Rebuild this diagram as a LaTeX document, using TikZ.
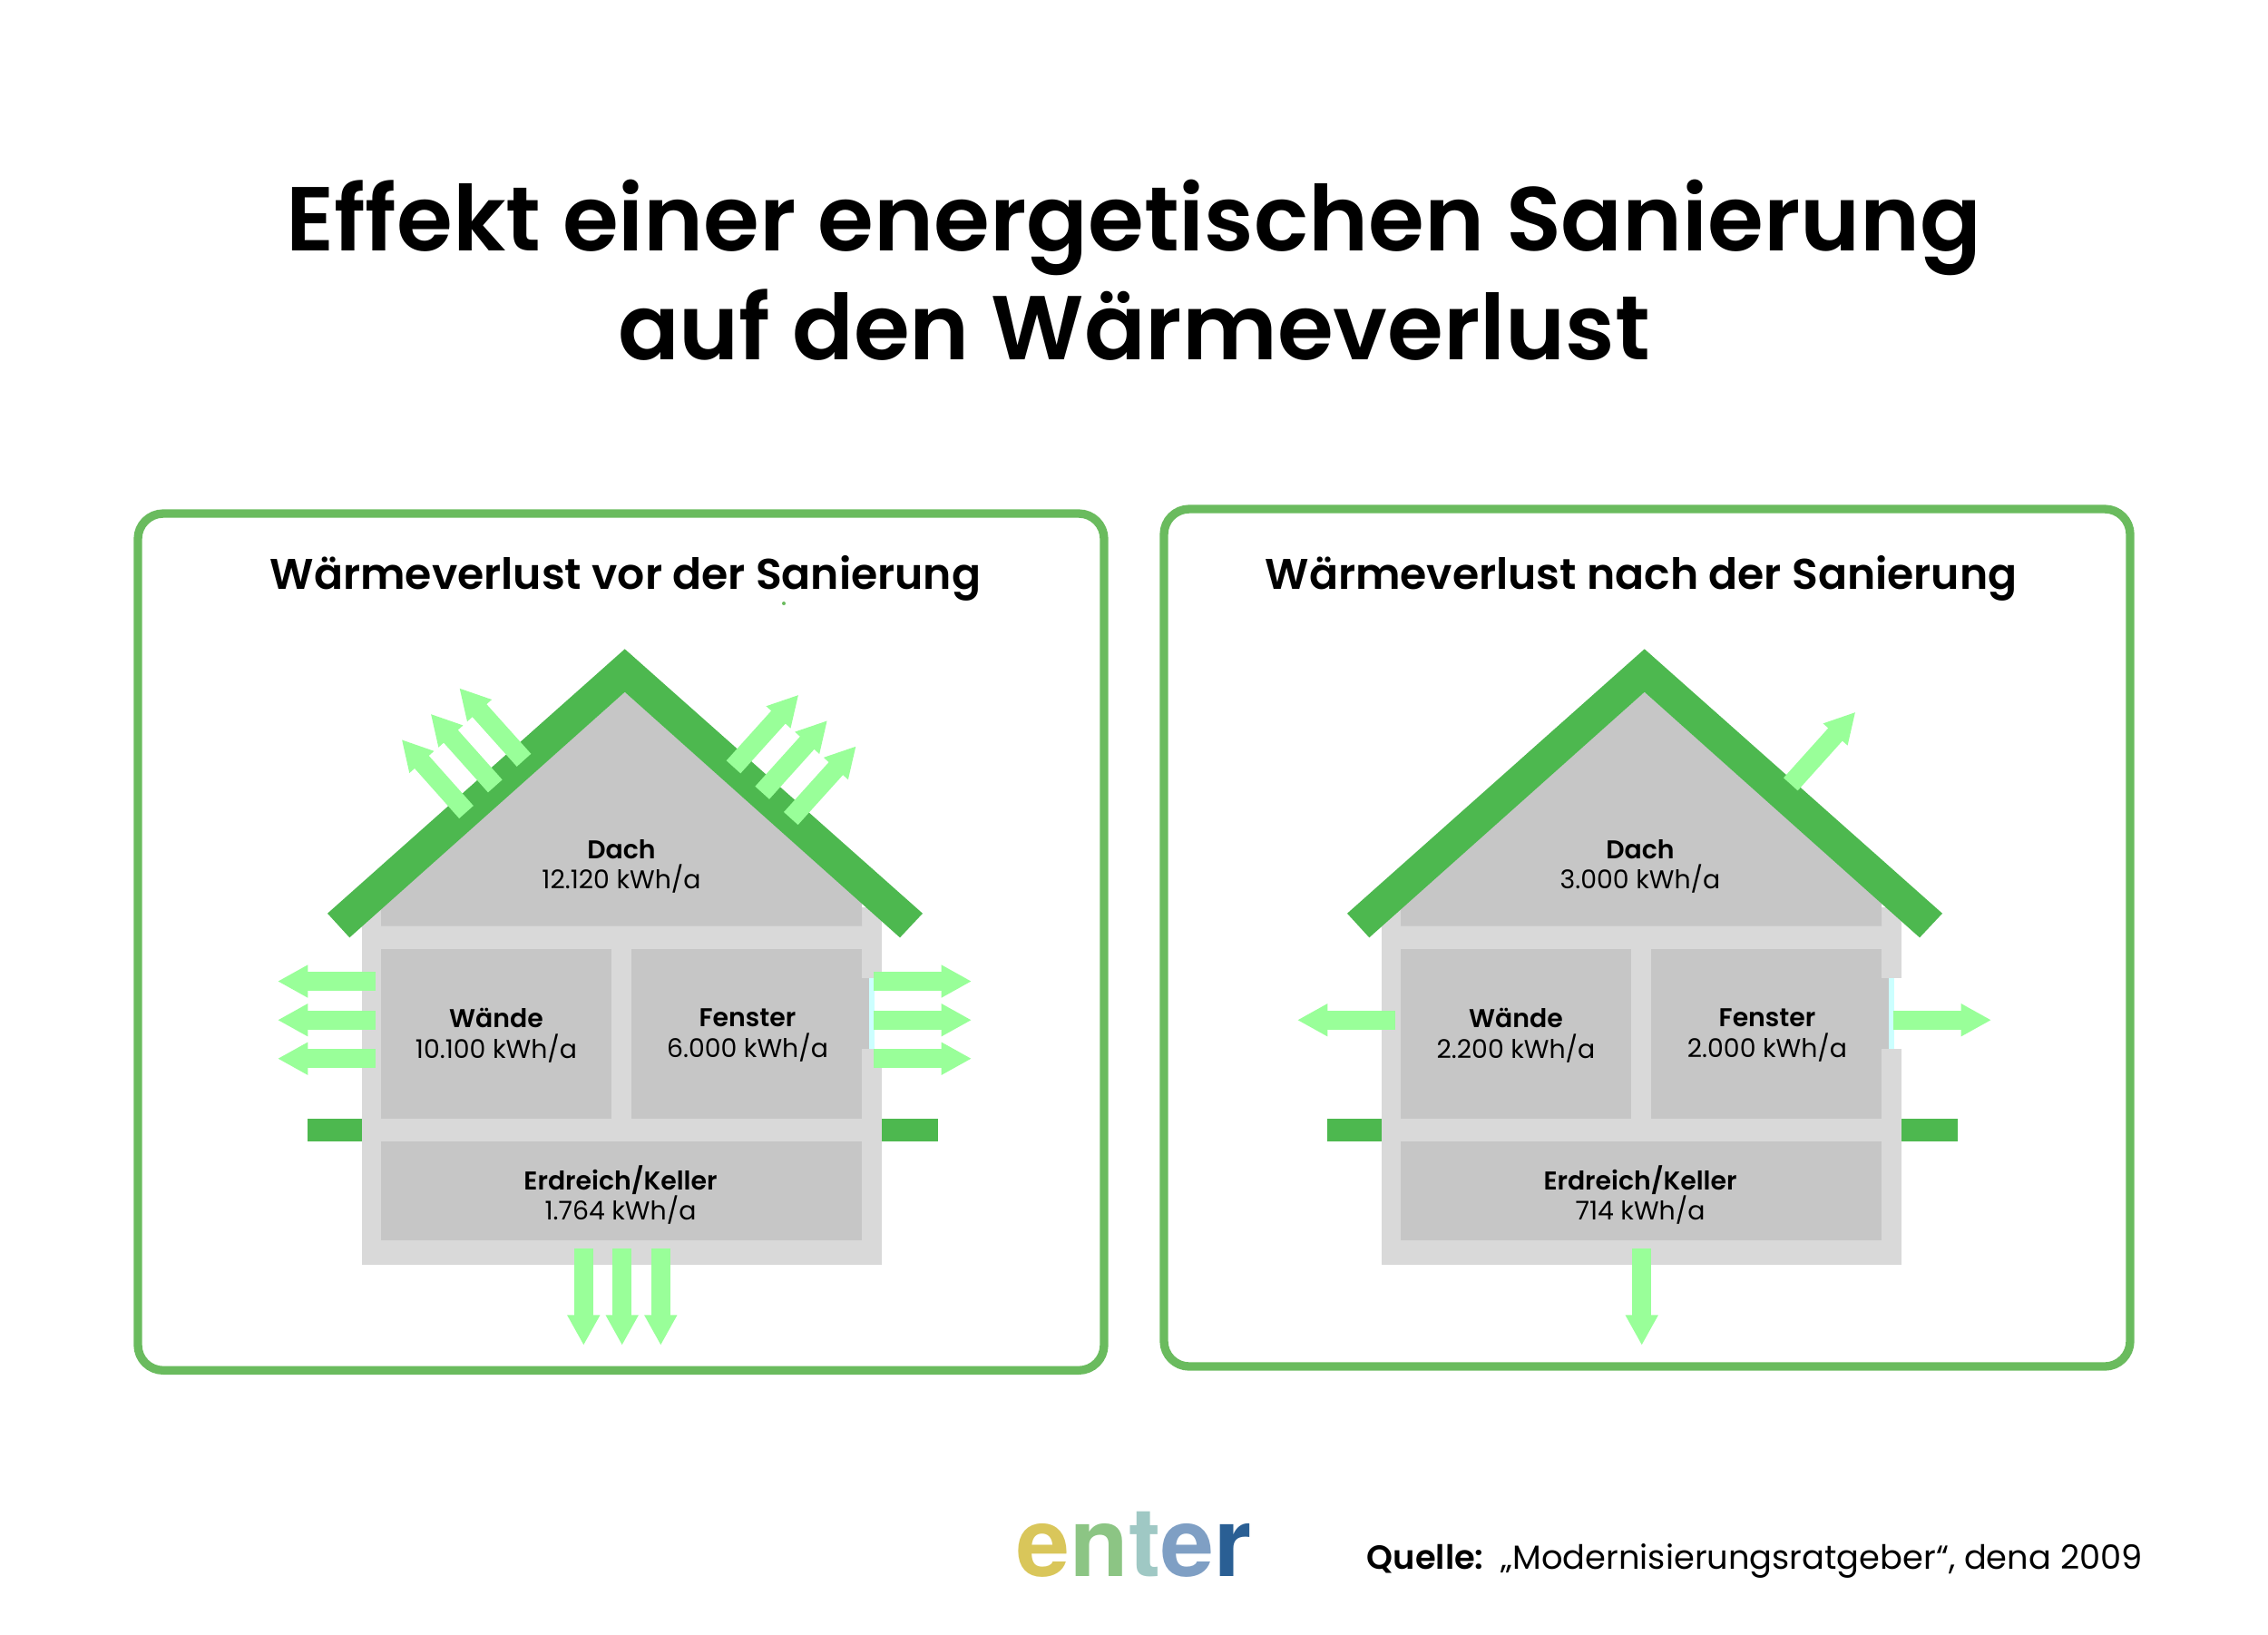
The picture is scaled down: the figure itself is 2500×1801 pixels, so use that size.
\documentclass[tikz,border=0pt]{standalone}
\usepackage{fontspec}
\usepackage{tikz}
\usetikzlibrary{arrows.meta}
\setmainfont{Poppins}[BoldFont=Poppins SemiBold]
\newfontfamily\logofont[BoldFont=TeX Gyre Heros Bold]{TeX Gyre Heros}
\definecolor{roofgreen}{HTML}{4DB84F}
\definecolor{framegreen}{HTML}{6ABB5E}
\definecolor{heatgreen}{HTML}{99FF99}
\definecolor{wallgray}{HTML}{D9D9D9}
\definecolor{roomgray}{HTML}{C6C6C6}
\definecolor{glasscyan}{HTML}{CCFFFF}

\begin{document}
\begin{tikzpicture}[x=0.24pt,y=-0.24pt,
    every node/.style={inner sep=0pt},
    frame/.style={draw=framegreen,line width=2.24pt,rounded corners=6.7pt},
    heat/.style={draw=heatgreen,line width=5.04pt,-{Triangle[width=8.1pt,length=8pt]}},
    maintitle/.style={font=\fontsize{24}{28.7}\selectfont\bfseries,align=center},
    paneltitle/.style={font=\fontsize{11.35}{14}\selectfont\bfseries},
    roomlabel/.style={font=\fontsize{6.8}{8.1}\selectfont,align=center},
    source/.style={font=\fontsize{8.83}{11}\selectfont}]
    \useasboundingbox (0,0) rectangle (2500,1801);
    \draw (1250,298) node (title) [maintitle] {Effekt einer energetischen Sanierung\\auf den Wärmeverlust};
    % house before
    \draw [frame] (152,566) rectangle (1217,1510.3);
    \draw (689.5,649) node (titlevor) [paneltitle,anchor=base] {Wärmeverlust vor der Sanierung};
    \fill [framegreen] (864,665) circle (2);
    \fill [wallgray] (398.7,1000) rectangle (972,1394);
    \fill [roomgray] (688.7,762.7) -- (950,995) -- (950,1020.7) -- (420,1020.7) -- (420,1001) -- cycle;
    \fill [roomgray] (420,1046) rectangle (674,1232.7);
    \fill [roomgray] (696,1046) rectangle (950,1232.7);
    \fill [roomgray] (420,1258) rectangle (950,1367.3);
    \fill [white] (964,1078) rectangle (972,1156);
    \fill [roomgray] (950,1078) rectangle (958,1156);
    \fill [glasscyan] (958,1078) rectangle (964,1156);
    \fill [roofgreen] (688.7,715.3) -- (1017,1006.7) -- (992,1033.3) -- (688.7,762.7) -- (385.3,1033.3) -- (361,1006.7) -- cycle;
    \fill [roofgreen] (338.5,1232.7) rectangle (398.7,1258);
    \fill [roofgreen] (972,1232.7) rectangle (1034,1258);
    \draw (685,955) node (dachvor) [roomlabel] {\textbf{Dach}\\12.120 kWh/a};
    \draw (547,1141) node (waendevor) [roomlabel] {\textbf{Wände}\\10.100 kWh/a};
    \draw (824,1141) node (fenstervor) [roomlabel] {\textbf{Fenster}\\6.000 kWh/a};
    \draw (684,1317) node (kellervor) [roomlabel] {\textbf{Erdreich/Keller}\\1.764 kWh/a};
    \draw [heat] (514,895) -- (442.7,815);
    \draw [heat] (545.8,866.3) -- (474.7,786.7);
    \draw [heat] (577.5,837.8) -- (506.3,758.3);
    \draw [heat] (808.5,845.3) -- (880.3,765.7);
    \draw [heat] (840.2,873.7) -- (912,794);
    \draw [heat] (871.8,902) -- (943.7,822.3);
    \draw [heat] (413.7,1081.5) -- (306,1081.5);
    \draw [heat] (413.7,1124.2) -- (306,1124.2);
    \draw [heat] (413.7,1166.7) -- (306,1166.7);
    \draw [heat] (963,1081.5) -- (1071,1081.5);
    \draw [heat] (963,1124.2) -- (1071,1124.2);
    \draw [heat] (963,1166.7) -- (1071,1166.7);
    \draw [heat] (643.3,1375.7) -- (643.3,1482.7);
    \draw [heat] (685.7,1375.7) -- (685.7,1482.7);
    \draw [heat] (728.3,1375.7) -- (728.3,1482.7);
    % house after
    \draw [frame] (1283,561) rectangle (2348,1506);
    \draw (1809,649) node (titlenach) [paneltitle,anchor=base] {Wärmeverlust nach der Sanierung};
    \fill [wallgray] (1522.7,1000) rectangle (2096,1394);
    \fill [roomgray] (1812.7,762.7) -- (2074,995) -- (2074,1020.7) -- (1544,1020.7) -- (1544,1001) -- cycle;
    \fill [roomgray] (1544,1046) rectangle (1798,1232.7);
    \fill [roomgray] (1820,1046) rectangle (2074,1232.7);
    \fill [roomgray] (1544,1258) rectangle (2074,1367.3);
    \fill [white] (2088,1078) rectangle (2096,1156);
    \fill [roomgray] (2074,1078) rectangle (2082,1156);
    \fill [glasscyan] (2082,1078) rectangle (2088,1156);
    \fill [roofgreen] (1812.7,715.3) -- (2141,1006.7) -- (2116,1033.3) -- (1812.7,762.7) -- (1509.3,1033.3) -- (1485,1006.7) -- cycle;
    \fill [roofgreen] (1462.5,1232.7) rectangle (1522.7,1258);
    \fill [roofgreen] (2096,1232.7) rectangle (2158,1258);
    \draw (1808,955) node (dachnach) [roomlabel] {\textbf{Dach}\\3.000 kWh/a};
    \draw (1671,1141) node (waendenach) [roomlabel] {\textbf{Wände}\\2.200 kWh/a};
    \draw (1948,1141) node (fensternach) [roomlabel] {\textbf{Fenster}\\2.000 kWh/a};
    \draw (1808,1317) node (kellernach) [roomlabel] {\textbf{Erdreich/Keller}\\714 kWh/a};
    \draw [heat] (1973.8,864.3) -- (2045.3,784.7);
    \draw [heat] (1537.7,1124.2) -- (1430,1124.2);
    \draw [heat] (2087,1124.2) -- (2195,1124.2);
    \draw [heat] (1809.7,1375.7) -- (1809.7,1482.7);
    % footer
    \draw (1120,1737) node (logo) [anchor=base west,font=\logofont\fontsize{25.4}{30}\selectfont\bfseries] {\textcolor[HTML]{D9C65A}{e}\textcolor[HTML]{8CC584}{n}\textcolor[HTML]{9FC8C4}{t}\textcolor[HTML]{7F9FC4}{e}\textcolor[HTML]{2A5F94}{r}};
    \draw (1506,1729) node (quelle) [source,anchor=base west] {\textbf{Quelle:}\, „Modernisierungsratgeber“, dena 2009};
\end{tikzpicture}
\end{document}
